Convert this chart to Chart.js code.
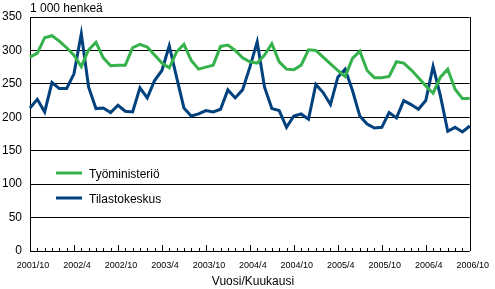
<!DOCTYPE html>
<html>
<head>
<meta charset="utf-8">
<script src="https://cdn.jsdelivr.net/npm/chart.js@4/dist/chart.umd.min.js"></script>
<style>
  html, body { margin: 0; padding: 0; background: #fff; }
  #chart { display: block; }
</style>
</head>
<body>
<canvas id="chart" width="495" height="289"></canvas>
<script>
// kuukaudet 2001/10 - 2006/10
const months = [
    '2001/10','2001/11','2001/12',
    '2002/1','2002/2','2002/3','2002/4','2002/5','2002/6','2002/7','2002/8','2002/9','2002/10','2002/11','2002/12',
    '2003/1','2003/2','2003/3','2003/4','2003/5','2003/6','2003/7','2003/8','2003/9','2003/10','2003/11','2003/12',
    '2004/1','2004/2','2004/3','2004/4','2004/5','2004/6','2004/7','2004/8','2004/9','2004/10','2004/11','2004/12',
    '2005/1','2005/2','2005/3','2005/4','2005/5','2005/6','2005/7','2005/8','2005/9','2005/10','2005/11','2005/12',
    '2006/1','2006/2','2006/3','2006/4','2006/5','2006/6','2006/7','2006/8','2006/9','2006/10'
];
const tickLabels = ['2001/10','2002/4','2002/10','2003/4','2003/10','2004/4','2004/10','2005/4','2005/10','2006/4','2006/10'];

const tyoministerio = [
    290, 296, 319, 322, 314, 304, 293, 276, 301, 312, 289, 277, 278, 278, 304,
    309, 305, 293, 281, 274, 298, 309, 285, 272, 275, 278, 306, 308, 300, 289,
    283, 281, 293, 310, 283, 272, 271, 278, 301, 300, 290, 280, 270, 261, 288,
    299, 270, 259, 259, 261, 283, 281, 271, 259, 247, 236, 260, 272, 242, 228, 228
];
const tilastokeskus = [
    214, 227, 208, 252, 243, 243, 265, 325, 245, 213, 214, 207, 218, 209, 208,
    244, 229, 255, 270, 307, 260, 214, 202, 205, 210, 208, 212, 241, 229, 241,
    275, 313, 245, 213, 210, 185, 202, 205, 197, 249, 237, 219, 260, 272, 240,
    202, 190, 184, 185, 207, 199, 225, 219, 212, 225, 276, 232, 179, 185, 178, 187
];
const yTicks = [0, 50, 100, 150, 200, 250, 300, 350];

const GREEN = '#35b24c';
const BLUE = '#00417e';
const FONT = "'Liberation Sans', Arial, sans-serif";

// akselin pikkutikut, oikea reuna, otsikot ja selite
const extras = {
    id: 'extras',
    beforeDatasetsDraw(chart) {
        const { ctx, chartArea: a, scales: { x } } = chart;
        ctx.save();
        ctx.strokeStyle = '#000';
        ctx.lineWidth = 1;
        ctx.beginPath();
        ctx.moveTo(Math.round(a.right) + 0.5, a.top);
        ctx.lineTo(Math.round(a.right) + 0.5, a.bottom);
        for (let i = 0; i < months.length; i++) {
            const px = Math.round(x.getPixelForValue(i)) + 0.5;
            const len = tickLabels.includes(months[i]) ? 6 : 3;
            ctx.moveTo(px, a.bottom);
            ctx.lineTo(px, a.bottom - len);
        }
        ctx.stroke();
        ctx.restore();
    },
    afterDraw(chart) {
        const { ctx, chartArea: a } = chart;
        ctx.save();
        ctx.fillStyle = '#000';
        ctx.font = '12px ' + FONT;
        ctx.textBaseline = 'middle';
        ctx.textAlign = 'left';
        ctx.fillText('1 000 henkeä', a.left, 9);
        ctx.textAlign = 'center';
        ctx.fillText('Vuosi/Kuukausi', 253, 282);

        const items = [
            { label: 'Työministeriö', color: GREEN, y: 173 },
            { label: 'Tilastokeskus', color: BLUE, y: 198 }
        ];
        ctx.textAlign = 'left';
        items.forEach(it => {
            ctx.strokeStyle = it.color;
            ctx.lineWidth = 3;
            ctx.beginPath();
            ctx.moveTo(56, it.y);
            ctx.lineTo(82, it.y);
            ctx.stroke();
            ctx.fillText(it.label, 89, it.y + 2);
        });
        ctx.restore();
    }
};

new Chart(document.getElementById('chart'), {
    type: 'line',
    data: {
        labels: months,
        datasets: [
            {
                label: 'Työministeriö',
                data: tyoministerio,
                borderColor: GREEN,
                borderWidth: 3,
                pointRadius: 0,
                tension: 0,
                fill: false
            },
            {
                label: 'Tilastokeskus',
                data: tilastokeskus,
                borderColor: BLUE,
                borderWidth: 3,
                pointRadius: 0,
                tension: 0,
                fill: false
            }
        ]
    },
    options: {
        responsive: false,
        animation: false,
        devicePixelRatio: 1,
        layout: { padding: { top: 17, right: 23, left: 0, bottom: 0 } },
        plugins: {
            legend: { display: false },
            tooltip: { enabled: false }
        },
        scales: {
            x: {
                offset: false,
                grid: { display: false, drawTicks: false },
                border: { display: false },
                ticks: {
                    autoSkip: false,
                    maxRotation: 0,
                    padding: 9,
                    labelOffset: 3,
                    color: '#000',
                    font: { family: FONT, size: 9 },
                    callback: function(v, i) {
                        const l = months[i];
                        return tickLabels.includes(l) ? l : null;
                    }
                },
                afterFit: s => { s.height = 38; }
            },
            y: {
                min: 0,
                max: 350,
                afterBuildTicks: s => { s.ticks = yTicks.map(v => ({ value: v })); },
                grid: { color: '#000', lineWidth: 1, drawTicks: false },
                border: { display: true, color: '#000', width: 1 },
                ticks: {
                    padding: 8,
                    color: '#000',
                    font: { family: FONT, size: 12 }
                },
                afterFit: s => { s.width = 30; }
            }
        }
    },
    plugins: [extras]
});
</script>
</body>
</html>
